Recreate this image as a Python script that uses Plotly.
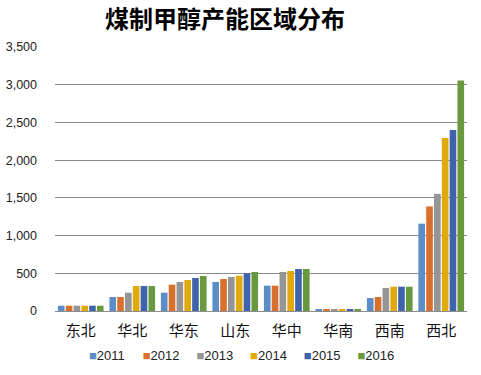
import plotly.graph_objects as go

regions = ["东北", "华北", "华东", "山东", "华中", "华南", "西南", "西北"]
years = ["2011", "2012", "2013", "2014", "2015", "2016"]
v2011 = [70, 186, 243, 385, 336, 15, 172, 1158]
v2012 = [70, 186, 349, 424, 336, 15, 186, 1386]
v2013 = [70, 243, 385, 451, 517, 15, 305, 1553]
v2014 = [70, 331, 411, 468, 530, 15, 322, 2293]
v2015 = [70, 331, 438, 500, 557, 15, 322, 2399]
v2016 = [70, 331, 464, 517, 557, 15, 322, 3057]
series = [v2011, v2012, v2013, v2014, v2015, v2016]
colors = ["#5B8EC6", "#D8702D", "#959595", "#E1AA0C", "#3F63AC", "#69993E"]
title = "煤制甲醇产能区域分布"

W, H = 481, 375
fig = go.Figure()
for y, vals, c in zip(years, series, colors):
    fig.add_trace(go.Bar(x=regions, y=vals, name=y, showlegend=False,
                         marker=dict(color=c, line=dict(width=0))))

# one small legend per year so the entries can be spaced like the original
legend_layout = {}
first_px, step_px = 89, 53.7
for i, (y, c) in enumerate(zip(years, colors)):
    key = "legend" if i == 0 else "legend%d" % (i + 1)
    fig.add_trace(go.Scatter(x=[None], y=[None], mode="lines", line=dict(width=0, color=c),
                             name="<span style='color:%s'>■</span>%s" % (c, y),
                             legend=key, showlegend=True, hoverinfo="skip"))
    legend_layout[key] = dict(
        orientation="h", xref="container", yref="container",
        x=(first_px + i * step_px - 40) / W, xanchor="left",
        y=1 - 355 / H, yanchor="middle", bgcolor="rgba(0,0,0,0)",
        font=dict(size=13, family="Liberation Sans, DejaVu Sans", color="#222"),
    )

fig.update_layout(
    width=W, height=H,
    margin=dict(l=55, r=14, t=47, b=64, autoexpand=False),
    paper_bgcolor="white", plot_bgcolor="white",
    barmode="group", bargap=0.09, bargroupgap=0.15,
    title=dict(text="<b>" + title + "</b>", x=225 / W, xref="container", xanchor="center",
               y=1 - 20 / H, yref="container", yanchor="middle",
               font=dict(family="Noto Sans CJK SC", size=24, color="black")),
    font=dict(family="Noto Sans CJK SC, DejaVu Sans", color="#222"),
    showlegend=True,
    **legend_layout,
)
fig.update_yaxes(range=[0, 3500], dtick=500, tickformat=",", showgrid=True,
                 gridcolor="#8c8c8c", gridwidth=1, zeroline=False, showline=False,
                 ticks="", ticklabelstandoff=17,
                 tickfont=dict(size=12.5, family="Liberation Sans, Arial", color="#222"))
fig.update_xaxes(showline=True, linecolor="#8c8c8c", linewidth=1, ticks="",
                 ticklabelstandoff=6,
                 tickfont=dict(size=15, family="Noto Sans CJK SC", color="#111"))

fig.write_html("out.html", config={"displayModeBar": False},
               post_script="document.body.style.margin='0';document.body.style.overflow='hidden';")
